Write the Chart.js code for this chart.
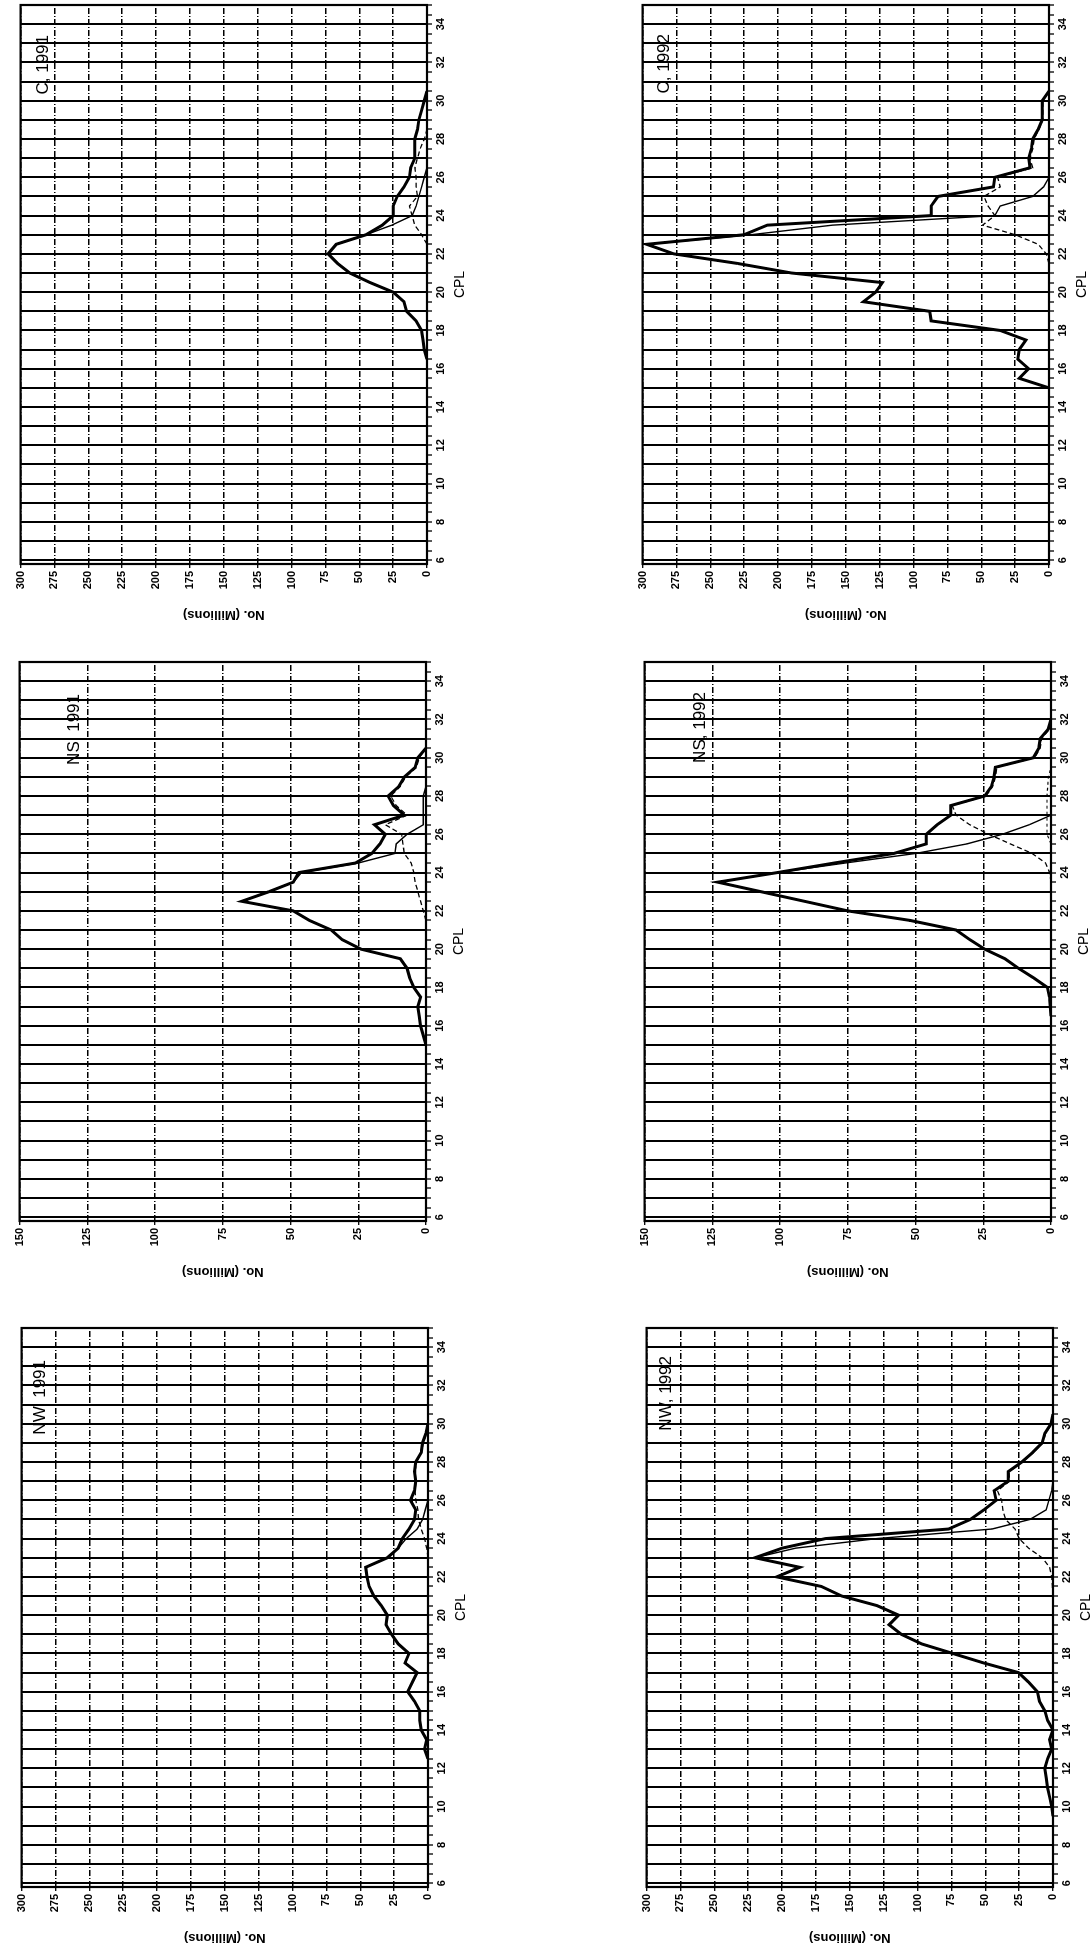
<!DOCTYPE html>
<html><head><meta charset="utf-8">
<script src="https://cdn.jsdelivr.net/npm/chart.js@4.4.1/dist/chart.umd.min.js"></script>
<style>
html,body{margin:0;padding:0;background:#fff;width:1091px;height:1949px;overflow:hidden;}
.panel{position:absolute;transform-origin:0 0;}
canvas{display:block;}
</style></head><body>
<script>
const _ = null;
// CPL categories (x values shared by every series)
const cpl = [9,9.5,10,10.5,11,11.5,12,12.5, 13,13.5,14,14.5,15,15.5,16,16.5,
             17,17.5,18,18.5,19,19.5,20,20.5, 21,21.5,22,22.5,23,23.5,24,24.5,
             25,25.5,26,26.5,27,27.5,28,28.5, 29,29.5,30,30.5,31,31.5,32,32.5];
const cplTickLabels = [6,8,10,12,14,16,18,20,22,24,26,28,30,32,34];
const valueTicks300 = [0,25,50,75,100,125,150,175,200,225,250,275,300];
const valueTicks150 = [0,25,50,75,100,125,150];

// ---- C, 1991
const c91Total  = [_,_,_,_,_,_,_,_, _,_,_,_,_,_,_,0, 2,3,4,8,15,17,25,42, 57,66,73,67,45,33,25,25, 22,17,13,12,9,9,9,7, 6,4,2,0,_,_,_,_];
const c91Thin   = [_,_,_,_,_,_,_,_, _,_,_,_,_,_,_,0, 2,3,4,8,15,17,25,42, 57,66,73,67,45,26,11,8, 6,4,2,0,_,_,_,_, _,_,_,_,_,_,_,_];
const c91Dash   = [_,_,_,_,_,_,_,_, _,_,_,_,_,_,_,_, _,_,_,_,_,_,_,_, _,_,_,0,4,9,11,13, 7,8,8,9,7,5,2,0, _,_,_,_,_,_,_,_];
// ---- C, 1992
const c92Total  = [_,_,_,_,_,_,_,_, _,_,_,_,0,22,15,23, 22,17,36,87,88,137,128,123, 190,230,277,297,225,208,87,87, 82,41,40,14,15,13,12,8, 5,5,5,0,_,_,_,_];
const c92Thin   = [_,_,_,_,_,_,_,_, _,_,_,_,0,22,15,23, 22,17,36,87,88,137,128,123, 190,230,277,297,220,160,40,36, 12,4,0,_,_,_,_,_, _,_,_,_,_,_,_,_];
const c92Dash   = [_,_,_,_,_,_,_,_, _,_,_,_,_,_,_,_, _,_,_,_,_,_,_,_, _,0,2,8,25,49,40,45, 48,36,38,12,14,12,11,7.5, 4.5,4.5,4.5,0,_,_,_,_];
// ---- NS, 1991
const ns91Total = [_,_,_,_,_,_,_,_, _,_,_,_,0,1,2,2.5, 3,2,4.5,6,7,9.5,24,31, 35,43,49,68,58,49,47,26, 20,17,15,19,8,12,14,10, 8,4,3,0,_,_,_,_];
const ns91Thin  = [_,_,_,_,_,_,_,_, _,_,_,_,0,1,2,2.5, 3,2,4.5,6,7,9.5,24,31, 35,43,49,68,58,49,46,25, 11.5,11,7,1,1,1,1,0, _,_,_,_,_,_,_,_];
const ns91Dash  = [_,_,_,_,_,_,_,_, _,_,_,_,_,_,_,_, _,_,_,_,_,_,_,_, _,0,1,2,3,4,4.5,5.5, 8,8.5,9,15,7,11,13,9.5, 7.5,3.5,2.5,0,_,_,_,_];
// ---- NS, 1992
const ns92Total = [_,_,_,_,_,_,_,_, _,_,_,_,_,_,_,0, 0.3,0.6,1.3,6.4,12,17,24.5,30, 35,52,75,91,107,123,101,80, 58,46,46,42,37,37,24.5,22, 21,20.5,6.5,4.5,4,1,0,_];
const ns92Thin  = [_,_,_,_,_,_,_,_, _,_,_,_,_,_,_,0, 0.3,0.6,1.3,6.4,12,17,24.5,30, 35,52,75,91,107,123,101,76, 50,31,18,8,0,_,_,_, _,_,_,_,_,_,_,_];
const ns92Dash  = [_,_,_,_,_,_,_,_, _,_,_,_,_,_,_,_, _,_,_,_,_,_,_,_, _,_,_,_,_,0,0.5,2, 7,15,23,30,35,36.5,24,21.5, 20.5,20,6,4,3.5,0.5,0,_];
const ns92Dot   = [_,_,_,_,_,_,_,_, _,_,_,_,_,_,_,_, _,_,_,_,_,_,_,_, _,_,_,_,_,_,_,_, _,0,1.5,1.5,1.5,1.5,1.5,1.2, 1,0,_,_,_,_,_,_];
// ---- NW, 1991
const nw91Total = [_,_,_,_,_,_,_,0, 2.5,1,5,6,6,10,15,11.5, 8,17,14,22,27,31,30,34.5, 40,43.5,45,46,30,22,19,14, 10,9,13,10,9,10,9,5, 4,1.5,0,_,_,_,_,_];
const nw91Thin  = [_,_,_,_,_,_,_,0, 2.5,1,5,6,6,10,15,11.5, 8,17,14,22,27,31,30,34.5, 40,43.5,45,46,30,22,16,8, 4,2,0,_,_,_,_,_, _,_,_,_,_,_,_,_];
const nw91Dash  = [_,_,_,_,_,_,_,_, _,_,_,_,_,_,_,_, _,_,_,_,_,_,_,_, _,_,_,_,0,1,2.5,5, 7,7.5,9,9.5,9,9.5,8.5,5, 3.5,1,0,_,_,_,_,_];
// ---- NW, 1992
const nw92Total = [_,0,1,2.5,4,5,6,4, 1,2.5,0,4,6,10,11.5,18, 25.5,51,74,97,112,121,114,130, 156,171,204,187,220,200,168,77, 61,51,42,43.5,33,33,23,15, 8,6,1.5,0,_,_,_,_];
const nw92Thin  = [_,0,1,2.5,4,5,6,4, 1,2.5,0,4,6,10,11.5,18, 25.5,51,74,97,112,121,114,130, 156,171,204,187,220,190,130,45, 17,5,3,1,0,_,_,_, _,_,_,_,_,_,_,_];
const nw92Dash  = [_,_,_,_,_,_,_,_, _,_,_,_,_,_,_,_, _,_,_,_,_,_,_,_, 0,0.5,1,2.5,8,18,25,28, 35,37,38,41,32,32.5,22.5,14.5, 7.5,5.5,1,0,_,_,_,_];

const FONT = '"Liberation Sans", Arial, Helvetica, sans-serif';
// margins around the plot, in page (rotated) terms
const M = {left:6, top:5, right:45, bottom:64};
const PW = 410, PH = 559;
const WC = M.top + PH + M.bottom;   // canvas width before rotation
const HC = M.left + PW + M.right;   // canvas height before rotation

const cplAllTicks = [];
for (let v = 6; v <= 35; v += 0.5) cplAllTicks.push(v);

const panels = [
  {title:'C, 1991',  left:17,  top:5,    max:300, vt:valueTicks300, tx:23, te:30, s:[c91Total,c91Thin,c91Dash]},
  {title:'C, 1992',  left:639, top:5,    max:300, vt:valueTicks300, tx:22, te:29, s:[c92Total,c92Thin,c92Dash]},
  {title:'NS, 1991', left:16,  top:662,  max:150, vt:valueTicks150, tx:55, te:32, s:[ns91Total,ns91Thin,ns91Dash]},
  {title:'NS, 1992', left:641, top:662,  max:150, vt:valueTicks150, tx:56, te:30, s:[ns92Total,ns92Thin,ns92Dash,ns92Dot]},
  {title:'NW, 1991', left:18,  top:1328, max:300, vt:valueTicks300, tx:19, te:32, s:[nw91Total,nw91Thin,nw91Dash]},
  {title:'NW, 1992', left:643, top:1328, max:300, vt:valueTicks300, tx:20, te:28, s:[nw92Total,nw92Thin,nw92Dash]}
];

const styles = [
  {borderWidth:3.0, borderDash:[]},
  {borderWidth:1.4, borderDash:[]},
  {borderWidth:1.3, borderDash:[5,3]},
  {borderWidth:1.1, borderDash:[3,3]}
];

function toPoints(arr){
  return cpl.map((c,i)=> arr[i]==null ? null : {x:c, y:arr[i]}).filter(Boolean);
}

const deco = {
  id:'panelDeco',
  beforeDatasetsDraw(chart, args, opts){
    const {ctx, chartArea:a} = chart;
    ctx.save(); ctx.strokeStyle='#000'; ctx.lineWidth=2.2; ctx.setLineDash([]);
    ctx.strokeRect(a.left, a.top, a.right-a.left, a.bottom-a.top);
    ctx.restore();
  },
  afterDraw(chart, args, opts){
    const {ctx, chartArea:a} = chart;
    ctx.save(); ctx.fillStyle='#000'; ctx.font='17px ' + FONT;
    ctx.textAlign='right'; ctx.textBaseline='middle';
    ctx.fillText(opts.title, a.right - opts.endOff, a.top + opts.xOff);
    ctx.restore();
  }
};

panels.forEach(p=>{
  const div = document.createElement('div');
  div.className='panel';
  div.style.left = (p.left - M.left) + 'px';
  div.style.top = (p.top - M.top) + 'px';
  div.style.width = WC + 'px';
  div.style.height = HC + 'px';
  div.style.transform = 'translateY(' + WC + 'px) rotate(-90deg)';
  const cv = document.createElement('canvas');
  cv.width = WC; cv.height = HC;
  cv.style.width = WC + 'px'; cv.style.height = HC + 'px';
  div.appendChild(cv);
  document.body.appendChild(div);

  const datasets = p.s.map((arr,i)=>({
    data: toPoints(arr),
    borderColor:'#000', backgroundColor:'#000',
    borderWidth: styles[i].borderWidth, borderDash: styles[i].borderDash,
    pointRadius:0, tension:0, fill:false
  }));

  new Chart(cv, {
    type:'line',
    data:{datasets},
    options:{
      responsive:false, animation:false, devicePixelRatio:1,
      layout:{padding:{top:M.left, right:M.top, bottom:0, left:0}, autoPadding:false},
      plugins:{legend:{display:false}, tooltip:{enabled:false},
               panelDeco:{title:p.title, xOff:p.tx, endOff:p.te}},
      scales:{
        x:{type:'linear', position:'bottom', min:5.8, max:35,
           afterBuildTicks:s=>{ s.ticks = cplAllTicks.map(v=>({value:v})); },
           afterFit:s=>{ s.height = M.right; },
           ticks:{autoSkip:false, maxRotation:0, minRotation:0, padding:2, color:'#000',
                  font:{family:FONT, size:11, weight:'bold'},
                  callback:v=> cplTickLabels.includes(v) ? String(v) : ''},
           grid:{color:c=> (c.tick && Number.isInteger(c.tick.value)) ? '#000' : 'rgba(0,0,0,0)',
                 lineWidth:2, tickColor:'#000', tickLength:5, tickWidth:1.3},
           border:{display:false},
           title:{display:true, text:'CPL', color:'#000', font:{family:FONT, size:14}, padding:{top:0, bottom:3}}
        },
        y:{type:'linear', position:'left', min:0, max:p.max,
           afterBuildTicks:s=>{ s.ticks = p.vt.map(v=>({value:v})); },
           afterFit:s=>{ s.width = M.bottom; },
           ticks:{padding:3, color:'#000', font:{family:FONT, size:11, weight:'bold'}},
           grid:{color:'#000', lineWidth:1.4, tickColor:'#000', tickLength:4, tickWidth:1.3},
           border:{display:false, dash:[6,2,1,2]},
           title:{display:true, text:'No. (Millions)', color:'#000', font:{family:FONT, size:13, weight:'bold'}, padding:{top:6, bottom:0}}
        }
      }
    },
    plugins:[deco]
  });
});
</script>
</body></html>
